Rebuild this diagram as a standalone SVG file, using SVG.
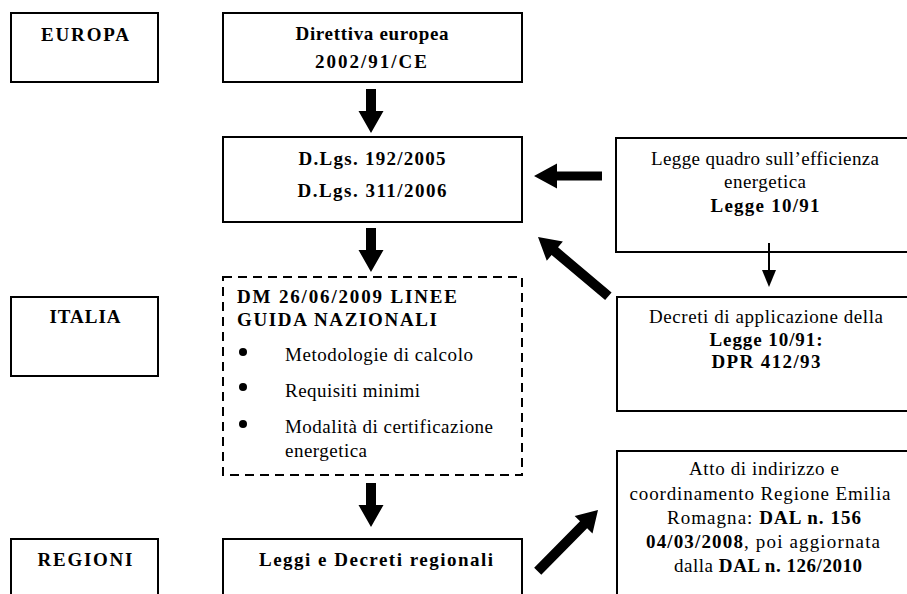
<svg xmlns="http://www.w3.org/2000/svg" width="907" height="594" viewBox="0 0 907 594">
  <style>
    text { font-family: "Liberation Serif", "Times New Roman", serif; font-size: 19px; fill: #000; }
    .b { font-weight: bold; }
    .m { text-anchor: middle; }
    .box { fill: #fff; stroke: #000; stroke-width: 2; }
    .dash { fill: #fff; stroke: #000; stroke-width: 2; stroke-dasharray: 9 6; }
    .arrow { fill: #000; }
    .thin { stroke: #000; stroke-width: 2; fill: none; }
  </style>
  <defs>
    <!-- thick block arrow pointing along +x, tip at origin -->
    <polygon id="blk" points="0,0 -22,-12.5 -22,-5 -92,-5 -92,5 -22,5 -22,12.5"/>
  </defs>

  <rect width="907" height="594" fill="#fff"/>

  <!-- level labels -->
  <g id="europa">
    <rect class="box" x="11" y="13" width="147" height="69"/>
    <text class="b m" x="85" y="41" textLength="88">EUROPA</text>
  </g>
  <g id="italia">
    <rect class="box" x="11" y="297" width="147" height="79"/>
    <text class="b m" x="85" y="323" textLength="71">ITALIA</text>
  </g>
  <g id="regioni">
    <rect class="box" x="11" y="539" width="147" height="80"/>
    <text class="b m" x="85" y="566" textLength="95">REGIONI</text>
  </g>

  <!-- main chain -->
  <g id="direttiva">
    <rect class="box" x="223" y="13" width="299" height="69"/>
    <text class="b m" x="372" y="40" textLength="153">Direttiva europea</text>
    <text class="b m" x="371" y="68" textLength="112">2002/91/CE</text>
  </g>
  <g id="dlgs">
    <rect class="box" x="223" y="137" width="299" height="85"/>
    <text class="b m" x="372" y="165" textLength="147">D.Lgs. 192/2005</text>
    <text class="b m" x="372" y="197" textLength="149">D.Lgs. 311/2006</text>
  </g>
  <g id="dm">
    <rect class="dash" x="223" y="277" width="299" height="198"/>
    <text class="b" x="237" y="303" textLength="220">DM 26/06/2009 LINEE</text>
    <text class="b" x="237" y="326" textLength="200">GUIDA NAZIONALI</text>
    <circle cx="243" cy="352" r="4"/>
    <circle cx="243" cy="387" r="4"/>
    <circle cx="243" cy="424" r="4"/>
    <text x="285" y="361" textLength="188">Metodologie di calcolo</text>
    <text x="285" y="397" textLength="135">Requisiti minimi</text>
    <text x="285" y="433" textLength="208">Modalità di certificazione</text>
    <text x="285" y="457" textLength="82">energetica</text>
  </g>
  <g id="regionali">
    <rect class="box" x="223" y="539" width="299" height="80"/>
    <text class="b m" x="376" y="566" textLength="234">Leggi e Decreti regionali</text>
  </g>

  <!-- right column -->
  <g id="legge-quadro">
    <rect class="box" x="616" y="138" width="300" height="114"/>
    <text class="m" x="765" y="165" textLength="228">Legge quadro sull’efficienza</text>
    <text class="m" x="765" y="188" textLength="82">energetica</text>
    <text class="b m" x="765" y="212" textLength="109">Legge 10/91</text>
  </g>
  <g id="dpr">
    <rect class="box" x="617" y="297" width="300" height="114"/>
    <text class="m" x="766" y="323" textLength="234">Decreti di applicazione della</text>
    <text class="b m" x="766" y="346" textLength="113">Legge 10/91:</text>
    <text class="b m" x="766" y="368" textLength="109">DPR 412/93</text>
  </g>
  <g id="atto">
    <rect class="box" x="617" y="451" width="300" height="170"/>
    <text class="m" x="764" y="475" textLength="150">Atto di indirizzo e</text>
    <text class="m" x="760" y="500" textLength="261">coordinamento Regione Emilia</text>
    <text class="m" x="764" y="524" textLength="194">Romagna: <tspan class="b">DAL n. 156</tspan></text>
    <text class="m" x="763" y="548" textLength="234"><tspan class="b">04/03/2008</tspan>, poi aggiornata</text>
    <text class="m" x="768" y="572" textLength="188">dalla <tspan class="b">DAL n. 126/2010</tspan></text>
  </g>

  <!-- connectors -->
  <g id="connectors" class="arrow">
    <polygon points="366,89 376,89 376,111 383.5,111 371,133 358.5,111 366,111"/>
    <polygon points="366,228 376,228 376,250 383.5,250 371,272 358.5,250 366,250"/>
    <polygon points="366,483 376,483 376,505 383.5,505 371,527 358.5,505 366,505"/>
    <polygon points="534,176 557,163.5 557,171.5 602,171.5 602,180.5 557,180.5 557,188.5"/>
    <use href="#blk" transform="translate(538,237) rotate(220.1)"/>
    <use href="#blk" transform="translate(598,510) rotate(-45.5) scale(0.935,1)"/>
    <line class="thin" x1="769" y1="243" x2="769" y2="272"/>
    <polygon points="762,270 776,270 769,287"/>
  </g>
</svg>
